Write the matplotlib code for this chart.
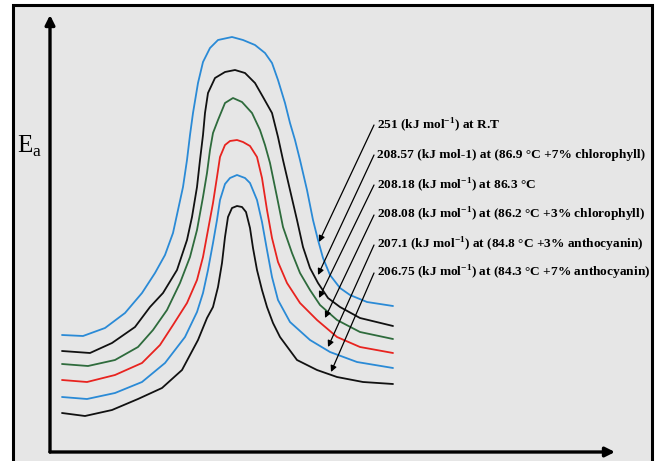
import matplotlib
matplotlib.use('Agg')
import matplotlib.pyplot as plt
from matplotlib.patches import Rectangle

# reaction coordinate (x) and activation energy (y)
rc_1 = [12, 33, 55, 75, 92, 105, 115, 123, 128, 133, 137, 140, 143, 148, 153, 160, 168, 182, 193, 205, 215, 222, 228,
        235, 240, 245, 250, 257, 263, 268, 273, 280, 290, 300, 317, 343]
ea_1 = [117, 116, 124, 139, 159, 179, 197, 219, 242, 265, 292, 317, 339, 369, 390, 404, 412, 415, 412, 407, 399, 389, 372,
        349, 329, 312, 292, 262, 232, 212, 194, 177, 164, 157, 150, 146]

rc_2 = [12, 40, 62, 85, 100, 113, 127, 137, 142, 147, 150, 153, 155, 158, 165, 175, 185, 195, 205, 213, 222, 228, 233,
        240, 247, 253, 260, 268, 278, 290, 310, 343]
ea_2 = [101, 99, 109, 125, 145, 159, 182, 212, 235, 265, 292, 317, 339, 359, 374, 380, 382, 379, 369, 355, 339, 315, 292,
        262, 232, 205, 184, 169, 154, 145, 134, 126]

rc_3 = [12, 38, 65, 88, 103, 117, 130, 140, 147, 153, 157, 160, 163, 168, 175, 183, 192, 202, 210, 215, 220, 227, 233,
        242, 250, 260, 270, 287, 310, 343]
ea_3 = [88, 86, 92, 105, 122, 142, 169, 195, 222, 255, 279, 302, 319, 332, 349, 354, 350, 339, 322, 307, 289, 255, 225,
        199, 179, 162, 147, 132, 120, 113]

rc_4 = [12, 37, 65, 92, 110, 123, 137, 147, 153, 158, 163, 167, 170, 175, 180, 187, 193, 200, 207, 212, 217, 222, 228,
        237, 250, 267, 287, 310, 343]
ea_4 = [72, 70, 77, 89, 107, 127, 149, 172, 195, 222, 249, 275, 295, 307, 311, 312, 310, 306, 295, 274, 242, 214, 190,
        169, 149, 132, 115, 105, 99]

rc_5 = [12, 37, 65, 92, 115, 135, 147, 153, 158, 163, 167, 170, 175, 180, 187, 195, 200, 207, 212, 217, 222, 228, 240,
        260, 280, 307, 343]
ea_5 = [55, 53, 59, 70, 89, 115, 140, 159, 182, 209, 232, 252, 268, 274, 277, 274, 269, 252, 230, 202, 175, 152, 130,
        112, 100, 90, 84]

rc_6 = [12, 35, 62, 88, 112, 132, 148, 157, 163, 168, 172, 175, 178, 182, 187, 192, 196, 200, 203, 207, 212, 217, 223,
        230, 247, 267, 287, 313, 343]
ea_6 = [39, 36, 42, 53, 64, 82, 112, 134, 145, 165, 189, 215, 235, 244, 246, 245, 240, 224, 204, 182, 162, 145, 129,
        115, 92, 82, 75, 70, 68]

curves = [(rc_1, ea_1), (rc_2, ea_2), (rc_3, ea_3), (rc_4, ea_4), (rc_5, ea_5), (rc_6, ea_6)]
colors = ['#2a8ad6', '#111111', '#2e6b3c', '#e8231f', '#2a8ad6', '#111111']

labels = [
    '251 (kJ mol$^{\\mathregular{-1}}$) at R.T',
    '208.57 (kJ mol-1) at (86.9 \u00b0C +7% chlorophyll)',
    '208.18 (kJ mol$^{\\mathregular{-1}}$) at 86.3 \u00b0C',
    '208.08 (kJ mol$^{\\mathregular{-1}}$) at (86.2 \u00b0C +3% chlorophyll)',
    '207.1 (kJ mol$^{\\mathregular{-1}}$) at (84.8 \u00b0C +3% anthocyanin)',
    '206.75 (kJ mol$^{\\mathregular{-1}}$) at (84.3 \u00b0C +7% anthocyanin)',
]
# where each arrow touches its curve, and where each label sits
arrow_rc = [269, 268, 269, 275, 278, 281]
arrow_ea = [210, 177, 154, 134, 105, 80]
label_rc = 324
label_ea = [327, 297, 267, 237, 207, 179]

fig = plt.figure(figsize=(6.59, 4.61), dpi=100)
fig.patch.set_facecolor('white')

# grey panel with black frame (bottom edge runs off the image)
fig.add_artist(Rectangle((13 / 659, -0.05), 639 / 659, 1.05 - 5 / 461,
                         transform=fig.transFigure, facecolor='#e6e6e6',
                         edgecolor='black', lw=2.2, zorder=0))

ax = fig.add_axes([50 / 659, 9 / 461, 565 / 659, 437 / 461])
ax.set_xlim(0, 565)
ax.set_ylim(0, 437)
ax.axis('off')

# axis arrows
ax.annotate('', xy=(0, 1), xytext=(0, 0), xycoords='axes fraction',
            arrowprops=dict(arrowstyle='-|>', lw=2.4, color='black',
                            mutation_scale=14, shrinkA=0, shrinkB=0))
ax.annotate('', xy=(1, 0), xytext=(0, 0), xycoords='axes fraction',
            arrowprops=dict(arrowstyle='-|>', lw=2.4, color='black',
                            mutation_scale=14, shrinkA=0, shrinkB=0))

ax.text(-0.036, 0.70, 'E$_{\\mathregular{a}}$', transform=ax.transAxes,
        family='Liberation Serif', fontsize=18, ha='center', va='center')

for (rc, ea), c in zip(curves, colors):
    ax.plot(rc, ea, color=c, lw=1.3, solid_capstyle='round', solid_joinstyle='round')

for lab, ax_x, ax_y, ly in zip(labels, arrow_rc, arrow_ea, label_ea):
    ax.annotate('', xy=(ax_x, ax_y), xytext=(label_rc, ly),
                arrowprops=dict(arrowstyle='-|>', lw=0.9, color='black',
                                mutation_scale=9, shrinkA=0, shrinkB=0))
    ax.text(label_rc + 3, ly, lab, family='Liberation Serif', weight='bold',
            fontsize=9.6, ha='left', va='center', clip_on=False)

fig.savefig('out.png', dpi=100)
